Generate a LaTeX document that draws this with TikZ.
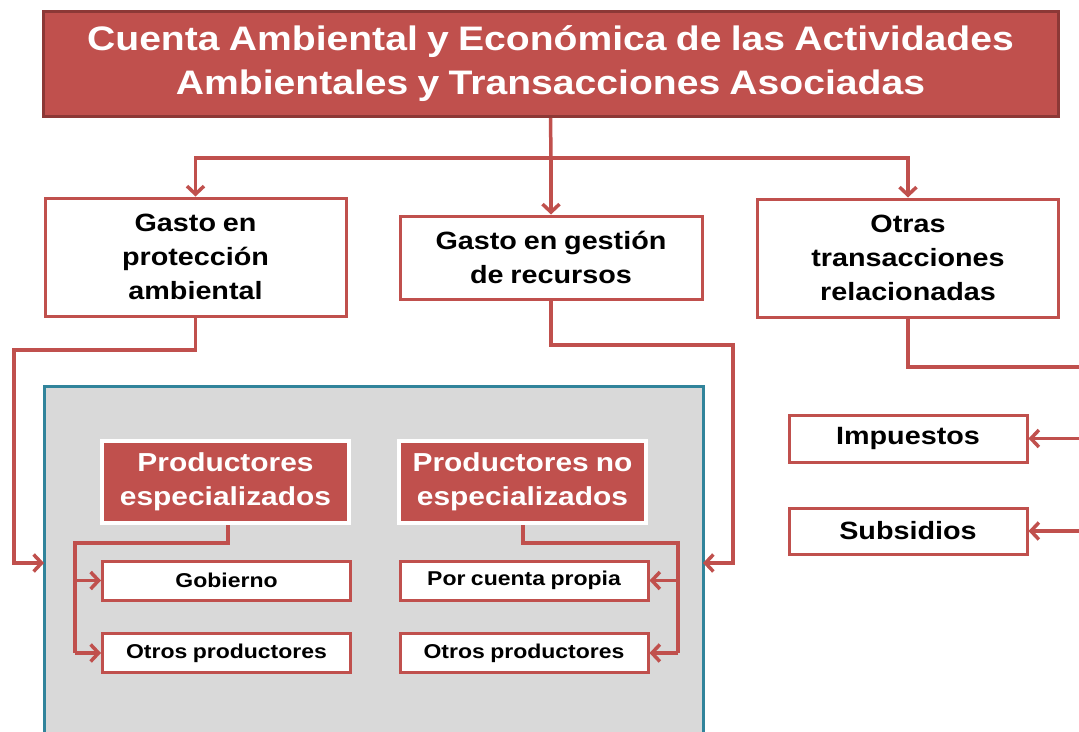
\documentclass[tikz,border=0pt]{standalone}
\usepackage{fontspec}
\setmainfont{Liberation Sans}[FakeStretch=1.15,WordSpace=0.85]
\usetikzlibrary{arrows.meta}
\definecolor{cred}{HTML}{C0504D}
\definecolor{cdark}{HTML}{8C3836}
\definecolor{cteal}{HTML}{31849B}
\definecolor{cgray}{HTML}{D9D9D9}
\tikzset{
  titlebox/.style={draw=cdark, line width=3pt, fill=cred, text=white, font=\fontsize{34}{44}\selectfont\bfseries, align=center, inner sep=0pt},
  wbox/.style={draw=cred, line width=3pt, fill=white, text=black, font=\fontsize{25}{34}\selectfont\bfseries, align=center, inner sep=0pt},
  sbox/.style={draw=cred, line width=3pt, fill=white, text=black, font=\fontsize{20}{24}\selectfont\bfseries, align=center, inner sep=0pt, minimum width=248pt, minimum height=39pt},
  rbox/.style={draw=white, line width=4pt, fill=cred, text=white, font=\fontsize{26}{34}\selectfont\bfseries, align=center, inner sep=0pt, minimum width=247pt, minimum height=82pt},
  conn/.style={draw=cred, line width=3.5pt},
  arr/.style={conn, -{Straight Barb[length=8pt, width=17pt, line width=3.5pt]}},
}
\begin{document}
\begin{tikzpicture}[x=1pt,y=-1pt]
\useasboundingbox (0,0) rectangle (1079,731);
% gray area
\path[fill=cgray, draw=cteal, line width=3pt] (44,386) rectangle (703,745);
\coordinate (grayW) at (44,563);
\coordinate (grayE) at (703,563);
% title
\node[titlebox, minimum width=1015pt, minimum height=105pt] (title) at (550.5,64)
  {Cuenta Ambiental y Económica de las Actividades\\Ambientales y Transacciones Asociadas};
% level 2
\node[wbox, minimum width=301pt, minimum height=118pt] (b1) at (195.5,257) {Gasto en\\protección\\ambiental};
\node[wbox, minimum width=302pt, minimum height=83pt] (b2) at (551,257.5) {Gasto en gestión\\de recursos};
\node[wbox, minimum width=301pt, minimum height=118pt] (b3) at (908,258) {Otras\\transacciones\\relacionadas};
% right side
\node[wbox, minimum width=238pt, minimum height=47pt] (imp) at (908,438.5) {Impuestos};
\node[wbox, minimum width=238pt, minimum height=46pt] (sub) at (908,531) {Subsidios};
% producers
\node[rbox] (pe) at (225.5,482) {Productores\\especializados};
\node[rbox] (pne) at (522.5,482) {Productores no\\especializados};
\node[sbox] (gob) at (226.5,580.5) {Gobierno};
\node[sbox] (ot1) at (226.5,653) {Otros productores};
\node[sbox] (pcp) at (524,580.5) {Por cuenta propia};
\node[sbox] (ot2) at (524,653) {Otros productores};
% connectors top
\coordinate (hub) at (551,158);
\draw[conn] (title.south) -- (hub);
\draw[arr] (hub) -| (b1.north);
\draw[arr] (hub) -- (b2.north);
\draw[arr] (hub) -| (b3.north);
% to gray area
\coordinate (l1) at (195.5,350);
\coordinate (l2) at (14,350);
\draw[arr] (b1.south) -- (l1) -- (l2) |- (grayW);
\coordinate (r1) at (551,345);
\coordinate (r2) at (733,345);
\draw[arr] (b2.south) -- (r1) -- (r2) |- (grayE);
% other transactions
\coordinate (o1) at (908,367);
\coordinate (o2) at (1092,367);
\coordinate (o3) at (1092,531);
\draw[conn] (b3.south) -- (o1) -- (o2) -- (o3);
\draw[arr] (1092,438.5) -- (imp.east);
\draw[arr] (o3) -- (sub.east);
% producers connectors
\coordinate (p1) at (228,543);
\coordinate (p2) at (75,543);
\coordinate (p3) at (75,653);
\draw[conn] (pe.south -| p1) -- (p1) -- (p2) -- (p3);
\draw[arr] (75,580.5) -- (gob.west);
\draw[arr] (p3) -- (ot1.west);
\coordinate (q1) at (523,543);
\coordinate (q2) at (678,543);
\coordinate (q3) at (678,653);
\draw[conn] (pne.south -| q1) -- (q1) -- (q2) -- (q3);
\draw[arr] (678,580.5) -- (pcp.east);
\draw[arr] (q3) -- (ot2.east);
\end{tikzpicture}
\end{document}
